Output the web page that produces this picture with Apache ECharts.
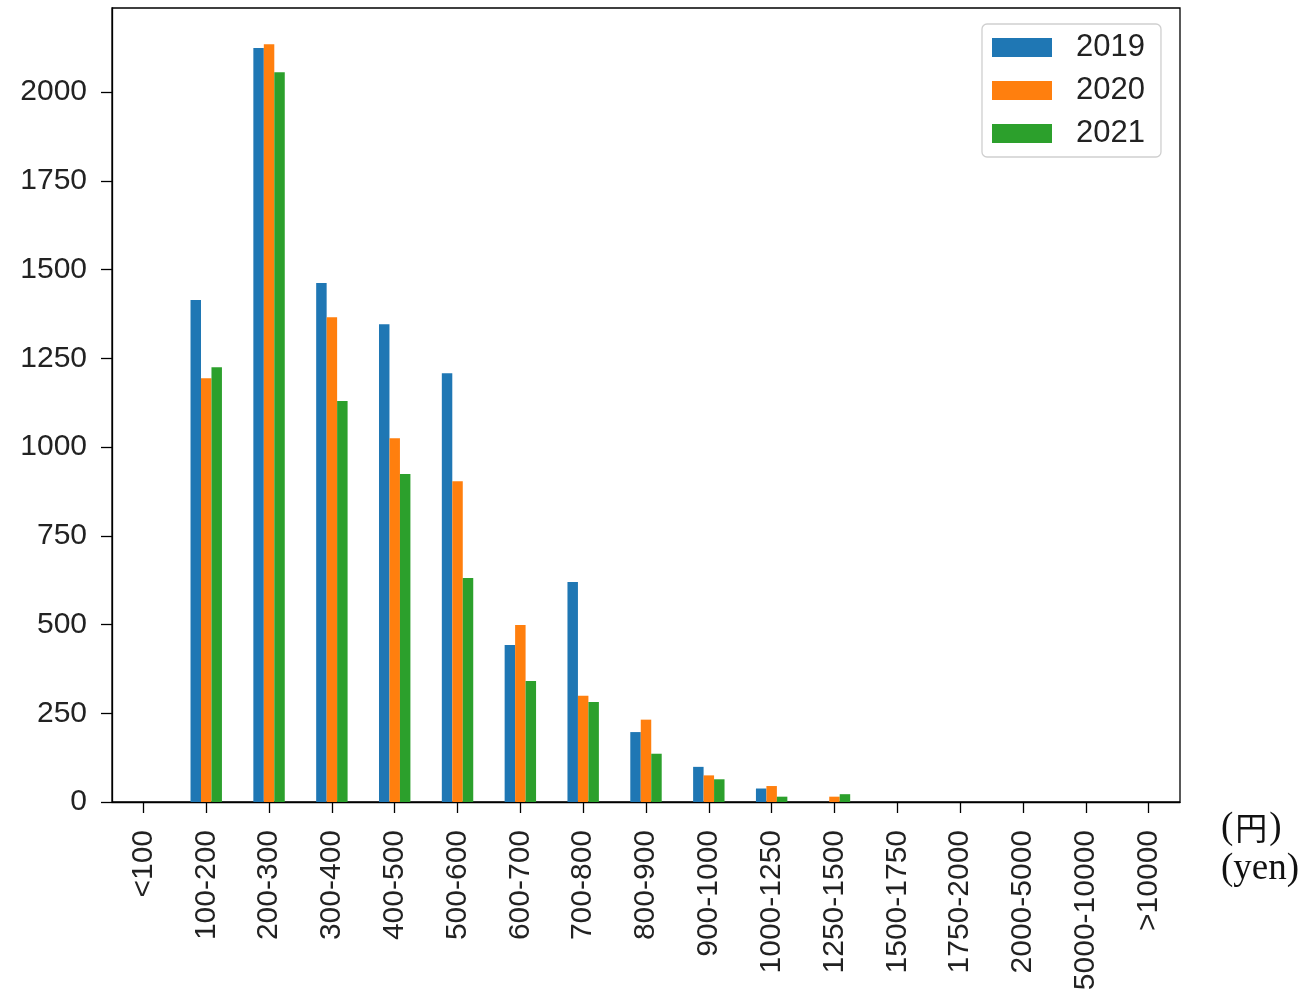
<!DOCTYPE html>
<html>
<head>
<meta charset="utf-8">
<script src="https://cdn.jsdelivr.net/npm/echarts@6/dist/echarts.min.js"></script>
<style>
  html, body { margin: 0; padding: 0; background: #fff; }
  #chart { width: 1304px; height: 1003px; }
</style>
</head>
<body>
<div id="chart"></div>
<script>
// Price bands (yen)
const categories = ['<100', '100-200', '200-300', '300-400', '400-500', '500-600', '600-700',
  '700-800', '800-900', '900-1000', '1000-1250', '1250-1500', '1500-1750', '1750-2000',
  '2000-5000', '5000-10000', '>10000'];

const seriesNames = ['2019', '2020', '2021'];

// Counts per price band for each year
const values2019 = [0, 1414, 2124, 1462, 1346, 1208, 442, 620, 197, 99, 38, 0, 0, 0, 0, 0, 0];
const values2020 = [0, 1194, 2135, 1366, 1025, 904, 499, 299, 232, 75, 45, 15, 0, 0, 0, 0, 0];
const values2021 = [0, 1225, 2056, 1130, 924, 631, 341, 282, 136, 64, 15, 22, 0, 0, 0, 0, 0];

const yTicks = [0, 250, 500, 750, 1000, 1250, 1500, 1750, 2000];

const colors = ['#1f77b4', '#ff7f0e', '#2ca02c'];
const FONT = '"Liberation Sans", Arial, sans-serif';
const SERIF = '"Liberation Serif", "Noto Sans CJK JP", serif';

const chart = echarts.init(document.getElementById('chart'), null, { renderer: 'canvas' });

const makeSeries = (name, data, color) => ({
  name: name,
  type: 'bar',
  data: data,
  barWidth: '16.67%',
  barGap: '0%',
  itemStyle: { color: color },
  emphasis: { disabled: true },
  animation: false
});

chart.setOption({
  animation: false,
  backgroundColor: '#fff',
  grid: {
    left: 112, right: 124, top: 8, bottom: 201,
    show: true, borderColor: '#000', borderWidth: 1.3,
    containLabel: false
  },
  legend: {
    data: seriesNames,
    orient: 'vertical',
    left: 982, top: 24,
    itemWidth: 60, itemHeight: 19,
    itemGap: 12,
    padding: [8, 16, 8, 10],
    backgroundColor: '#fff',
    borderColor: '#cfcfcf',
    borderWidth: 1.3,
    borderRadius: 5,
    icon: 'rect',
    textStyle: { fontFamily: FONT, fontSize: 31, color: '#222', padding: [0, 0, 0, 19], lineHeight: 31 }
  },
  xAxis: {
    type: 'category',
    data: categories,
    boundaryGap: true,
    axisLine: { show: true, lineStyle: { color: '#000', width: 1.3 } },
    axisTick: { show: true, alignWithLabel: true, length: 11, lineStyle: { color: '#000', width: 1.3 } },
    axisLabel: { rotate: 90, interval: 0, margin: 28, fontFamily: FONT, fontSize: 30, color: '#222' },
    splitLine: { show: false }
  },
  yAxis: {
    type: 'value',
    min: 0, max: 2237, interval: 250,
    axisLine: { show: true, lineStyle: { color: '#000', width: 1.3 } },
    axisTick: { show: true, length: 11, customValues: yTicks, lineStyle: { color: '#000', width: 1.3 } },
    axisLabel: {
      margin: 25, fontFamily: FONT, fontSize: 30, color: '#222',
      customValues: yTicks,
      formatter: v => String(v)
    },
    splitLine: { show: false }
  },
  graphic: [
    { type: 'text', x: 1221, y: 828,
      style: {
        text: '{p|(}{k|円}{p|)}',
        verticalAlign: 'middle',
        rich: {
          p: { font: '37px ' + SERIF, fill: '#111' },
          k: { font: '32px "Noto Sans CJK JP", sans-serif', fill: '#111', padding: [0, 2, 0, 2] }
        }
      } },
    { type: 'text', x: 1221, y: 869,
      style: { text: '(yen)', font: '37px ' + SERIF, fill: '#111', verticalAlign: 'middle' } }
  ],
  series: [
    makeSeries(seriesNames[0], values2019, colors[0]),
    makeSeries(seriesNames[1], values2020, colors[1]),
    makeSeries(seriesNames[2], values2021, colors[2])
  ]
});
</script>
</body>
</html>
